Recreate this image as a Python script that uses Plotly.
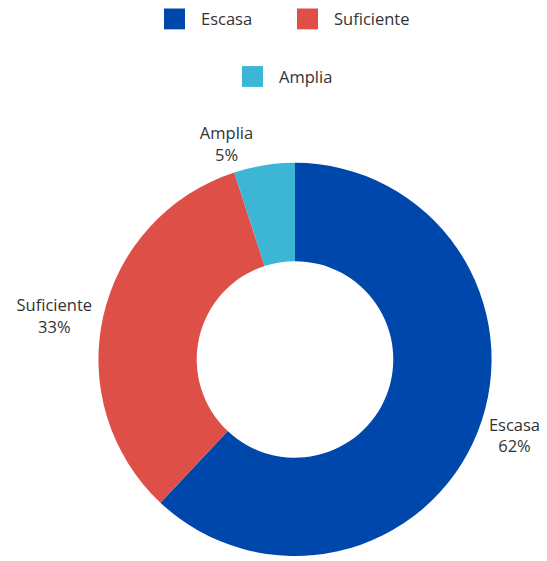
import plotly.graph_objects as go

# Data
categories = ["Escasa", "Suficiente", "Amplia"]
values = [62, 33, 5]
colors = ["#0047AB", "#DE5047", "#3DB6D6"]

# The page body adds an 8px margin, so work in reference pixels minus 8
OFF = 8
W, H = 547 - OFF, 561 - OFF
FONT = "Open Sans, Segoe UI, sans-serif"
TXT = "#333333"

def fx(px):
    return (px - OFF) / W

def fy(py):
    return 1 - (py - OFF) / H

fig = go.Figure(
    go.Pie(
        labels=categories,
        values=values,
        marker=dict(colors=colors, line=dict(width=0)),
        hole=0.5,
        sort=False,
        direction="clockwise",
        rotation=0,
        textposition="outside",
        texttemplate="%{label}<br>%{percent:.0%}",
        textfont=dict(family=FONT, size=16.5, color=TXT),
        showlegend=False,
        domain=dict(x=[fx(97), fx(493)], y=[fy(560), fy(164)]),
    )
)

# Custom two-row legend (layout positions, content from the data arrays)
legend_pos = [(164, 19), (297, 19), (242, 77)]  # left edge of square, centre y
shapes = []
annotations = []
sq = 21
for (lx, ly), name, col in zip(legend_pos, categories, colors):
    shapes.append(dict(
        type="rect", xref="paper", yref="paper",
        x0=fx(lx), x1=fx(lx + sq), y0=fy(ly + sq / 2), y1=fy(ly - sq / 2),
        fillcolor=col, line=dict(width=0),
    ))
    annotations.append(dict(
        xref="paper", yref="paper", x=fx(lx + sq + 15), y=fy(ly),
        xanchor="left", yanchor="middle", showarrow=False, borderpad=0,
        text=name, font=dict(family=FONT, size=16.5, color=TXT),
    ))

fig.update_layout(
    width=W, height=H,
    margin=dict(l=0, r=0, t=0, b=0),
    paper_bgcolor="white", plot_bgcolor="white",
    shapes=shapes, annotations=annotations,
)

fig.write_html("out.html")
